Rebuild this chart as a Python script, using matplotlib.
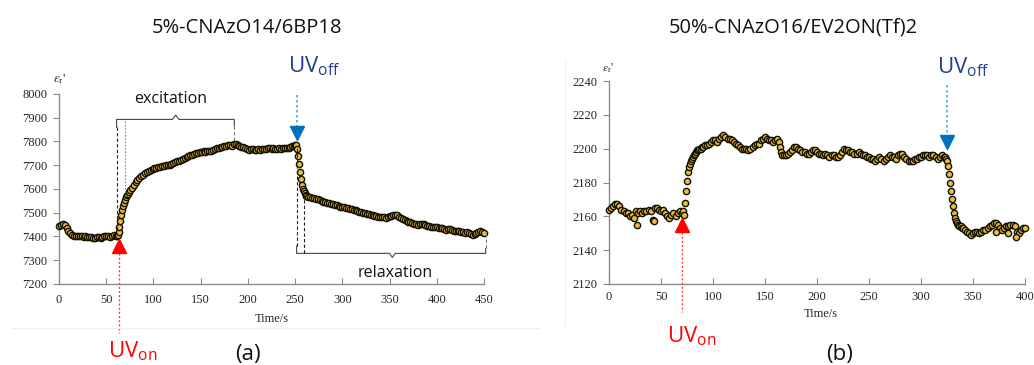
import numpy as np
import matplotlib
matplotlib.use("Agg")
import matplotlib.pyplot as plt
from matplotlib.lines import Line2D

plt.rcParams['font.family'] = ['Liberation Serif', 'DejaVu Serif']
plt.rcParams['mathtext.fontset'] = 'stix'

# ---------------- data: panel (a) 5%-CNAzO14/6BP18 ----------------
t_a1 = list(range(0, 61, 2))
eps_a1 = [7445, 7448, 7452, 7447, 7435, 7425, 7415, 7408, 7404, 7402, 7400, 7403, 7401, 7398, 7400, 7398,
          7396, 7398, 7395, 7394, 7396, 7397, 7395, 7398, 7400, 7402, 7400, 7398, 7402, 7405, 7400]
t_a2 = list(range(61, 76))
eps_a2 = [7400, 7405, 7420, 7440, 7465, 7490, 7510, 7528, 7543, 7555, 7565, 7573, 7581, 7588, 7595]
t_a3 = list(range(77, 250, 2))
eps_a3 = [7606, 7617, 7628, 7638, 7646, 7653, 7660, 7666, 7671, 7676,
          7680, 7684, 7687, 7689, 7692, 7694, 7695, 7697, 7699, 7701,
          7703, 7705, 7708, 7712, 7716, 7719, 7722, 7726, 7730, 7734,
          7738, 7742, 7745, 7748, 7750, 7752, 7755, 7757, 7758, 7756,
          7760, 7762, 7762, 7765, 7768, 7771, 7773, 7776, 7778, 7782,
          7780, 7785, 7784, 7782, 7788, 7790, 7787, 7782, 7778, 7775,
          7772, 7768, 7766, 7770, 7768, 7766, 7765, 7768, 7766, 7770,
          7769, 7767, 7771, 7773, 7770, 7772, 7768, 7770, 7772, 7770,
          7772, 7774, 7771, 7774, 7777, 7779, 7781]
t_a4 = list(range(250, 263))
eps_a4 = [7784, 7785, 7770, 7740, 7705, 7670, 7640, 7618, 7602, 7590, 7582, 7576, 7572]
t_a5 = list(range(264, 451, 2))
eps_a5 = [7568, 7566, 7563, 7561, 7558, 7556, 7553, 7550, 7547, 7545,
          7542, 7540, 7538, 7536, 7533, 7531, 7528, 7526, 7525, 7523,
          7520, 7521, 7517, 7514, 7512, 7510, 7507, 7504, 7502, 7500,
          7498, 7496, 7494, 7491, 7489, 7487, 7485, 7482, 7480, 7483,
          7481, 7479, 7483, 7487, 7488, 7491, 7492, 7490, 7484, 7478,
          7472, 7468, 7465, 7462, 7459, 7456, 7454, 7452, 7450, 7452,
          7454, 7452, 7448, 7446, 7444, 7441, 7440, 7438, 7440, 7437,
          7435, 7434, 7430, 7428, 7430, 7432, 7428, 7425, 7422, 7424,
          7422, 7420, 7418, 7416, 7419, 7414, 7410, 7408, 7410, 7416,
          7420, 7422, 7421, 7415]

# ---------------- data: panel (b) 50%-CNAzO16/EV2ON(Tf)2 ----------------
t_b1 = list(range(0, 71, 2))
eps_b1 = [2164, 2165, 2166, 2167, 2167, 2166, 2164, 2163, 2162, 2162, 2160, 2161, 2159, 2163, 2162, 2163,
          2162, 2163, 2163, 2164, 2163, 2158, 2165, 2165, 2164, 2163, 2164, 2162, 2160, 2159, 2161, 2162,
          2160, 2162, 2163, 2162]
t_b2 = list(range(71, 91))
eps_b2 = [2163, 2161, 2168, 2175, 2181, 2186, 2189, 2191, 2193, 2194, 2195, 2196, 2197, 2198, 2199, 2199,
          2200, 2200, 2201, 2201]
t_b3 = list(range(92, 163, 2))
eps_b3 = [2202, 2202, 2203, 2204, 2205, 2205, 2204, 2206, 2207, 2208, 2207, 2206, 2206, 2205, 2204, 2203,
          2202, 2201, 2200, 2200, 2200, 2199, 2200, 2201, 2202, 2203, 2203, 2205, 2206, 2207, 2206, 2205,
          2205, 2204, 2205, 2206]
t_b4 = [163, 164, 165]
eps_b4 = [2204, 2201, 2198]
t_b5 = list(range(166, 323, 2))
eps_b5 = [2196, 2196, 2196, 2197, 2198, 2199, 2201, 2201, 2200, 2199, 2198, 2198, 2197, 2197, 2198, 2199,
          2199, 2198, 2197, 2197, 2196, 2197, 2196, 2195, 2196, 2196, 2195, 2195, 2196, 2198, 2200, 2199,
          2199, 2198, 2198, 2197, 2197, 2198, 2197, 2196, 2196, 2195, 2195, 2194, 2194, 2193, 2194, 2195,
          2194, 2193, 2194, 2195, 2196, 2195, 2195, 2194, 2196, 2197, 2197, 2195, 2194, 2193, 2193, 2193,
          2194, 2194, 2195, 2195, 2196, 2196, 2196, 2195, 2196, 2196, 2195, 2194, 2195, 2196, 2195]
t_b6 = list(range(323, 341))
eps_b6 = [2195, 2194, 2193, 2190, 2185, 2180, 2175, 2170, 2166, 2162, 2159, 2157, 2156, 2155, 2154, 2154,
          2153, 2153]
t_b7 = list(range(342, 401, 2))
eps_b7 = [2152, 2151, 2150, 2149, 2150, 2151, 2151, 2150, 2151, 2152, 2152, 2153, 2154, 2155, 2156, 2156,
          2155, 2153, 2152, 2153, 2154, 2154, 2155, 2155, 2154, 2151, 2150, 2152, 2153, 2153]
t_b8 = [27, 43, 372, 384, 391]
eps_b8 = [2155, 2157, 2151, 2150, 2148]

t_a = t_a1 + t_a2 + t_a3 + t_a4 + t_a5
eps_a = eps_a1 + eps_a2 + eps_a3 + eps_a4 + eps_a5
t_b = t_b1 + t_b2 + t_b3 + t_b4 + t_b5 + t_b6 + t_b7 + t_b8
eps_b = eps_b1 + eps_b2 + eps_b3 + eps_b4 + eps_b5 + eps_b6 + eps_b7 + eps_b8
assert len(t_a) == len(eps_a), (len(t_a), len(eps_a))
assert len(t_b) == len(eps_b), (len(t_b), len(eps_b))

xticks_a = [0, 50, 100, 150, 200, 250, 300, 350, 400, 450]
yticks_a = [7200, 7300, 7400, 7500, 7600, 7700, 7800, 7900, 8000]
xticks_b = [0, 50, 100, 150, 200, 250, 300, 350, 400]
yticks_b = [2120, 2140, 2160, 2180, 2200, 2220, 2240]

title_a = "5%-CNAzO14/6BP18"
title_b = "50%-CNAzO16/EV2ON(Tf)2"

# ---------------- figure ----------------
W, H = 1034, 365
fig = plt.figure(figsize=(W / 100, H / 100), dpi=100)
fx = lambda x: x / W
fy = lambda y: 1 - y / H

# faint borders of the pasted plot images
fig.add_artist(Line2D([fx(12), fx(540)], [fy(328), fy(328)], color='#eeeeee', lw=0.8))
fig.add_artist(Line2D([fx(565), fx(565)], [fy(60), fy(325)], color='#eeeeee', lw=0.8))

ax1 = fig.add_axes([fx(59), fy(284), 425 / W, 190 / H])
ax2 = fig.add_axes([fx(609), fy(284), 416 / W, 203 / H])

SANS = ['Open Sans', 'DejaVu Sans']
FILL = '#e9bd42'
EDGE = '#141000'

for ax, t, e, xt, yt, xpad in [(ax1, t_a, eps_a, xticks_a, yticks_a, 7.5),
                               (ax2, t_b, eps_b, xticks_b, yticks_b, 4.7)]:
    ax.plot(t, e, 'o', ms=4.5, mfc=FILL, mec=EDGE, mew=1.0, zorder=3, clip_on=False)
    ax.set_xlim(xt[0], xt[-1])
    ax.set_ylim(yt[0], yt[-1])
    ax.set_xticks(xt)
    ax.set_yticks(yt)
    for s in ['top', 'right']:
        ax.spines[s].set_visible(False)
    for s in ['left', 'bottom']:
        ax.spines[s].set_color('#8a8a8a')
        ax.spines[s].set_linewidth(1.0)
    ax.tick_params(axis='y', direction='out', length=4, width=0.8, color='#8a8a8a',
                   labelsize=9, pad=4.5, labelcolor='#262626')
    ax.tick_params(axis='x', direction='in', length=4, width=0.8, color='#8a8a8a',
                   labelsize=9, pad=xpad, labelcolor='#262626')
    ax.set_facecolor('none')

ax1.set_xlabel("Time/s", fontsize=9, color='#262626')
ax1.xaxis.set_label_coords((272 - 59) / 425, (284 - 313) / 190)
ax2.set_xlabel("Time/s", fontsize=9, color='#262626')
ax2.xaxis.set_label_coords((821 - 609) / 416, (284 - 308) / 203)

# y labels (epsilon_r')
fig.text(fx(53), fy(79), r"$\varepsilon_{\rm r}$'", ha='left', va='center', fontsize=9.5, color='#262626')
fig.text(fx(602), fy(68), r"$\varepsilon_{\rm r}$'", ha='left', va='center', fontsize=8.5, color='#262626')

# titles
fig.text(fx(247), fy(33), title_a, ha='center', va='baseline', fontsize=14.5, family=SANS, color='#111111')
fig.text(fx(793), fy(33), title_b, ha='center', va='baseline', fontsize=14.5, family=SANS, color='#111111')

# panel labels
fig.text(fx(248), fy(360), "(a)", ha='center', va='baseline', fontsize=16, family=SANS, color='#111111')
fig.text(fx(840), fy(360), "(b)", ha='center', va='baseline', fontsize=16, family=SANS, color='#111111')

# UV labels
RED = '#ff0000'
NAVY = '#1f3f8f'
BLUE = '#0070c0'
LBLUE = '#45aef0'
fig.text(fx(108), fy(357), r"$\mathregular{UV_{on}}$", ha='left', va='baseline', fontsize=16, family=SANS, color=RED)
fig.text(fx(667), fy(342), r"$\mathregular{UV_{on}}$", ha='left', va='baseline', fontsize=16, family=SANS, color=RED)
fig.text(fx(288), fy(72), r"$\mathregular{UV_{off}}$", ha='left', va='baseline', fontsize=16, family=SANS, color=NAVY)
fig.text(fx(937), fy(73), r"$\mathregular{UV_{off}}$", ha='left', va='baseline', fontsize=16, family=SANS, color=NAVY)

# --- panel (a) markers of UV on/off ---
ax1.plot([63.5, 63.5], [7330, 6994], ls=(0, (1.5, 1.5)), color='#ff4040', lw=1.0, clip_on=False, zorder=4)
ax1.plot([63.5], [7358], marker='^', ms=9.5, color=RED, mec=RED, clip_on=False, zorder=6)
ax1.plot([251.5, 251.5], [7996, 7861], ls=(0, (1.5, 1.5)), color=LBLUE, lw=1.2, clip_on=False, zorder=4)
ax1.plot([251.5], [7834], marker='v', ms=9.5, color=BLUE, mec=BLUE, clip_on=False, zorder=6)

# --- panel (b) markers ---
ax2.plot([70, 70], [2150.9, 2103.5], ls=(0, (1.5, 1.5)), color='#ff4040', lw=1.0, clip_on=False, zorder=4)
ax2.plot([70], [2154.6], marker='^', ms=9.5, color=RED, mec=RED, clip_on=False, zorder=6)
ax2.plot([325, 325], [2237.6, 2208], ls=(0, (1.5, 1.5)), color=LBLUE, lw=1.2, clip_on=False, zorder=4)
ax2.plot([325], [2204], marker='v', ms=9.5, color=BLUE, mec=BLUE, clip_on=False, zorder=6)

# --- excitation bracket ---
BR = '#444444'
ax1.plot([61, 61, 120, 123.5, 127, 185.6, 185.6], [7860, 7893, 7893, 7911, 7893, 7893, 7865],
         color=BR, lw=0.8, zorder=4)
ax1.plot([61, 61], [7860, 7410], ls=(0, (3, 2)), color='#222222', lw=0.8, zorder=4)
ax1.plot([69.5, 69.5], [7885, 7565], ls=(0, (1.5, 1.5)), color='#888888', lw=0.8, zorder=4)
ax1.plot([185.6, 185.6], [7865, 7790], ls=(0, (3, 2)), color='#777777', lw=0.8, zorder=4)
ax1.text(118.6, 7962, "excitation", ha='center', va='baseline', fontsize=11.5, family=SANS, color='#111111')

# --- relaxation bracket ---
ax1.plot([251.6, 251.6, 350, 353, 356, 451.8, 451.8], [7360, 7329, 7329, 7312, 7329, 7329, 7350],
         color=BR, lw=0.8, zorder=4, clip_on=False)
ax1.plot([251.6, 251.6], [7360, 7780], ls=(0, (3, 2)), color='#222222', lw=0.8, zorder=4)
ax1.plot([259.7, 259.7], [7329, 7574], ls=(0, (3, 2)), color='#222222', lw=0.8, zorder=4)
ax1.plot([451.8, 451.8], [7350, 7410], ls=(0, (3, 2)), color='#777777', lw=0.8, zorder=4, clip_on=False)
ax1.text(355.8, 7229.5, "relaxation", ha='center', va='baseline', fontsize=11.5, family=SANS, color='#111111')

fig.savefig("out.png", dpi=100)
